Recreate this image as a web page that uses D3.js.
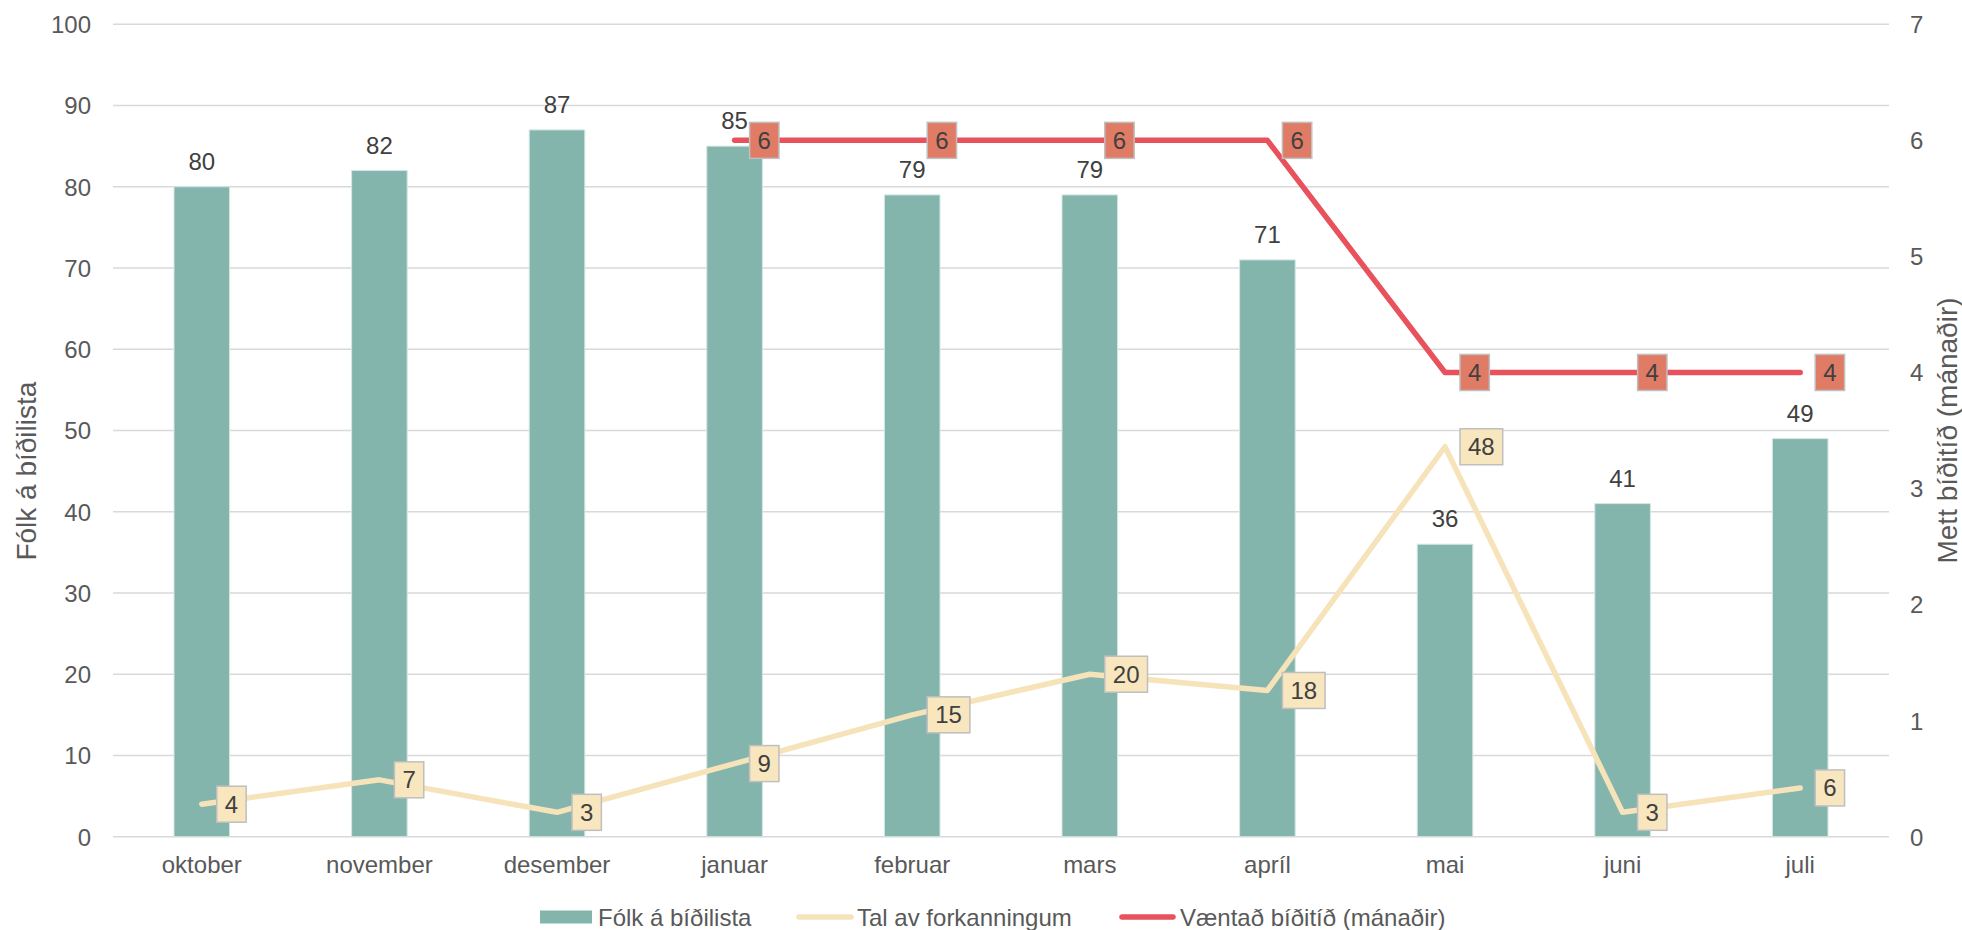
<!DOCTYPE html>
<html>
<head>
<meta charset="utf-8">
<script src="https://cdn.jsdelivr.net/npm/d3@7"></script>
<style>
  body { margin: 0; background: #fff; }
  text { font-family: "Liberation Sans", Arial, sans-serif; }
</style>
</head>
<body>
<script>
// månaðir og dátur
let months = ["oktober", "november", "desember", "januar", "februar", "mars", "apríl", "mai", "juni", "juli"];
let folk = [80, 82, 87, 85, 79, 79, 71, 36, 41, 49];          // Fólk á bíðilista (vinstru ás)
let forkanning = [4, 7, 3, 9, 15, 20, 18, 48, 3, 6];          // Tal av forkanningum (vinstru ás)
let vaentad = [null, null, null, 6, 6, 6, 6, 4, 4, 4];        // Væntað bíðitíð (høgru ás)
let leftTicks = [0, 10, 20, 30, 40, 50, 60, 70, 80, 90, 100];
let rightTicks = [0, 1, 2, 3, 4, 5, 6, 7];

let width = 1962, height = 930;
let margin = {top: 24.3, right: 73, bottom: 93.3, left: 113};
let fs = 24;

let svg = d3.select("body").append("svg")
  .attr("width", width)
  .attr("height", height);

let x = d3.scaleBand()
  .domain(months)
  .range([margin.left, width - margin.right])
  .paddingInner(0.687)
  .paddingOuter(0.687 / 2);

let y = d3.scaleLinear().domain([0, 100]).range([height - margin.bottom, margin.top]);
let y2 = d3.scaleLinear().domain([0, 7]).range([height - margin.bottom, margin.top]);

let cx = d => x(d) + x.bandwidth() / 2;

// gridlinjur
svg.append("g")
  .selectAll("line")
  .data(leftTicks)
  .enter().append("line")
  .attr("x1", margin.left)
  .attr("x2", width - margin.right)
  .attr("y1", d => y(d))
  .attr("y2", d => y(d))
  .attr("stroke", "#d9d9d9")
  .attr("stroke-width", 1.5);

// vinstru ás
let yAxis = svg.append("g")
  .attr("transform", `translate(${margin.left - 22},0)`)
  .call(d3.axisLeft(y).tickValues(leftTicks).tickSize(0).tickPadding(0));
yAxis.select(".domain").remove();
yAxis.selectAll("text")
  .attr("font-size", fs)
  .attr("fill", "#595959")
  .attr("dy", "0.35em");

// høgru ás
let y2Axis = svg.append("g")
  .attr("transform", `translate(${width - margin.right + 21},0)`)
  .call(d3.axisRight(y2).tickValues(rightTicks).tickFormat(d3.format("d")).tickSize(0).tickPadding(0));
y2Axis.select(".domain").remove();
y2Axis.selectAll("text")
  .attr("font-size", fs)
  .attr("fill", "#595959")
  .attr("dy", "0.35em");

// x ás
let xAxis = svg.append("g")
  .attr("transform", `translate(0,${height - margin.bottom})`)
  .call(d3.axisBottom(x).tickSize(0).tickPadding(0));
xAxis.select(".domain").remove();
xAxis.selectAll("text")
  .attr("font-size", fs)
  .attr("fill", "#595959")
  .attr("y", 36)
  .attr("dy", 0);

// ás heiti
svg.append("text")
  .attr("transform", `translate(26,${y(45)}) rotate(-90)`)
  .attr("text-anchor", "middle")
  .attr("dominant-baseline", "central")
  .attr("font-size", 28)
  .attr("fill", "#595959")
  .text("Fólk á bíðilista");

svg.append("text")
  .attr("transform", `translate(1947,${(margin.top + height - margin.bottom) / 2}) rotate(-90)`)
  .attr("text-anchor", "middle")
  .attr("dominant-baseline", "central")
  .attr("font-size", 28)
  .attr("fill", "#595959")
  .text("Mett bíðitíð (mánaðir)");

// súlur
svg.append("g")
  .selectAll("rect")
  .data(folk)
  .enter().append("rect")
  .attr("x", (d, i) => x(months[i]))
  .attr("y", d => y(d))
  .attr("width", x.bandwidth())
  .attr("height", d => y(0) - y(d))
  .attr("fill", "#83b5ad")
  .attr("stroke", "#d4e6e2")
  .attr("stroke-width", 1);

svg.append("g")
  .selectAll("text")
  .data(folk)
  .enter().append("text")
  .attr("x", (d, i) => cx(months[i]))
  .attr("y", d => y(d) - 17)
  .attr("text-anchor", "middle")
  .attr("font-size", fs)
  .attr("fill", "#404040")
  .text(d => d);

// linjur
let lineTal = d3.line()
  .x((d, i) => cx(months[i]))
  .y(d => y(d));

svg.append("path")
  .datum(forkanning)
  .attr("d", lineTal)
  .attr("fill", "none")
  .attr("stroke", "#f6e3b9")
  .attr("stroke-width", 5.5)
  .attr("stroke-linecap", "round")
  .attr("stroke-linejoin", "round");

let lineVaent = d3.line()
  .defined(d => d !== null)
  .x((d, i) => cx(months[i]))
  .y(d => y2(d));

svg.append("path")
  .datum(vaentad)
  .attr("d", lineVaent)
  .attr("fill", "none")
  .attr("stroke", "#e8525d")
  .attr("stroke-width", 5.5)
  .attr("stroke-linecap", "round")
  .attr("stroke-linejoin", "round");

// merki í kassa
function boxLabels(values, scale, fill) {
  let g = svg.append("g");
  values.forEach((v, i) => {
    if (v === null) return;
    let px = cx(months[i]), py = scale(v);
    let lg = g.append("g");
    let r = lg.append("rect");
    let t = lg.append("text")
      .attr("x", px + 15 + 8)
      .attr("y", py)
      .attr("dy", "0.35em")
      .attr("font-size", fs)
      .attr("fill", "#404040")
      .text(v);
    let w = t.node().getComputedTextLength();
    r.attr("x", px + 15)
      .attr("y", py - 18)
      .attr("width", w + 16)
      .attr("height", 36)
      .attr("fill", fill)
      .attr("stroke", "#bfbfbf")
      .attr("stroke-width", 1.5);
  });
}
boxLabels(forkanning, y, "#f8e6be");
boxLabels(vaentad, y2, "#e07b66");

// tekningaforklaring
let legend = svg.append("g");
legend.append("rect")
  .attr("x", 540).attr("y", 910.5)
  .attr("width", 52).attr("height", 13)
  .attr("fill", "#83b5ad");
legend.append("text")
  .attr("x", 598).attr("y", 925.5)
  .attr("font-size", fs).attr("fill", "#595959")
  .text("Fólk á bíðilista");

legend.append("line")
  .attr("x1", 799).attr("x2", 851)
  .attr("y1", 917).attr("y2", 917)
  .attr("stroke", "#f6e3b9").attr("stroke-width", 5.5)
  .attr("stroke-linecap", "round");
legend.append("text")
  .attr("x", 857).attr("y", 925.5)
  .attr("font-size", fs).attr("fill", "#595959")
  .text("Tal av forkanningum");

legend.append("line")
  .attr("x1", 1122).attr("x2", 1173)
  .attr("y1", 917).attr("y2", 917)
  .attr("stroke", "#e8525d").attr("stroke-width", 5.5)
  .attr("stroke-linecap", "round");
legend.append("text")
  .attr("x", 1180).attr("y", 925.5)
  .attr("font-size", fs).attr("fill", "#595959")
  .text("Væntað bíðitíð (mánaðir)");
</script>
</body>
</html>
